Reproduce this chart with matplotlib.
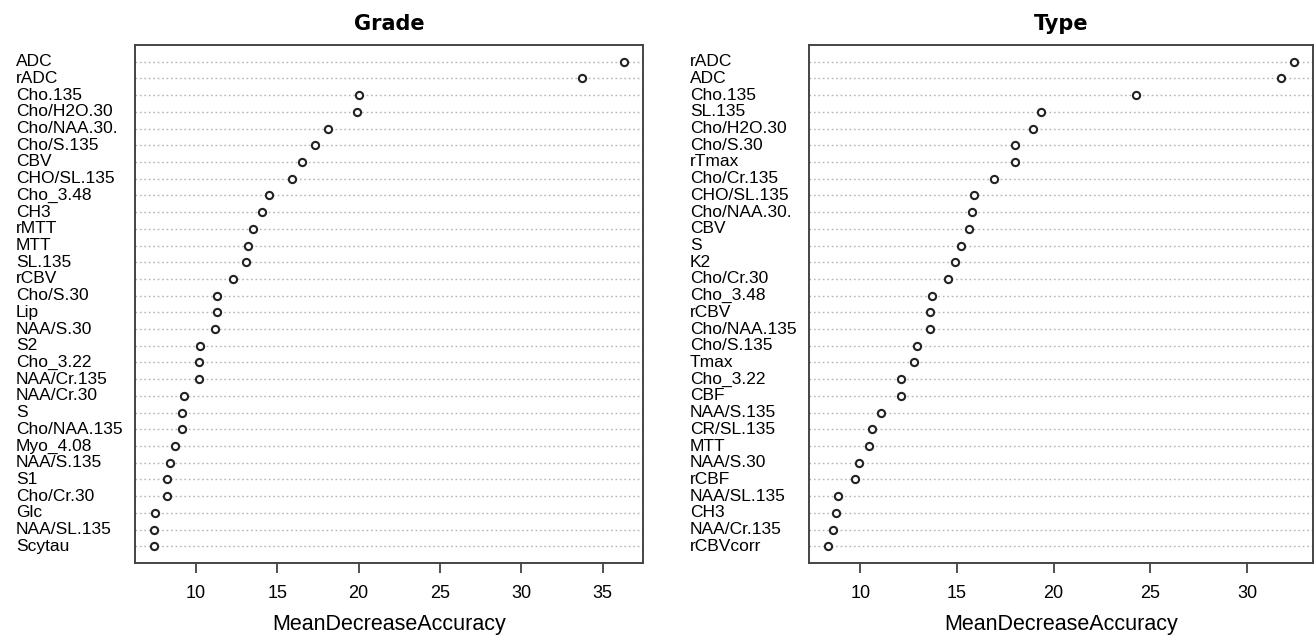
import matplotlib
matplotlib.use("Agg")
import matplotlib.pyplot as plt
from matplotlib.transforms import blended_transform_factory

grade_labels = ["ADC", "rADC", "Cho.135", "Cho/H2O.30", "Cho/NAA.30.", "Cho/S.135", "CBV",
                "CHO/SL.135", "Cho_3.48", "CH3", "rMTT", "MTT", "SL.135", "rCBV", "Cho/S.30",
                "Lip", "NAA/S.30", "S2", "Cho_3.22", "NAA/Cr.135", "NAA/Cr.30", "S",
                "Cho/NAA.135", "Myo_4.08", "NAA/S.135", "S1", "Cho/Cr.30", "Glc",
                "NAA/SL.135", "Scytau"]
grade_values = [36.3, 33.7, 20.0, 19.9, 18.1, 17.3, 16.5, 15.9, 14.5, 14.05, 13.5, 13.2,
                13.05, 12.3, 11.27, 11.27, 11.2, 10.26, 10.18, 10.18, 9.24, 9.16, 9.16,
                8.73, 8.42, 8.23, 8.23, 7.51, 7.41, 7.41]

type_labels = ["rADC", "ADC", "Cho.135", "SL.135", "Cho/H2O.30", "Cho/S.30", "rTmax",
               "Cho/Cr.135", "CHO/SL.135", "Cho/NAA.30.", "CBV", "S", "K2", "Cho/Cr.30",
               "Cho_3.48", "rCBV", "Cho/NAA.135", "Cho/S.135", "Tmax", "Cho_3.22", "CBF",
               "NAA/S.135", "CR/SL.135", "MTT", "NAA/S.30", "rCBF", "NAA/SL.135", "CH3",
               "NAA/Cr.135", "rCBVcorr"]
type_values = [32.45, 31.78, 24.25, 19.33, 18.94, 18.0, 18.0, 16.94, 15.86, 15.79, 15.62,
               15.23, 14.92, 14.56, 13.69, 13.62, 13.62, 12.93, 12.78, 12.08, 12.08, 11.08,
               10.61, 10.46, 9.93, 9.70, 8.85, 8.76, 8.61, 8.31]

xticks = [10, 15, 20, 25, 30, 35]

W, H = 1315, 636
fig = plt.figure(figsize=(W / 100, H / 100), dpi=100)

def panel(rect, labels, values, title, label_x):
    ax = fig.add_axes(rect)
    n = len(values)
    ys = [n - i for i in range(n)]
    lo, hi = min(values), max(values)
    ext = (hi - lo) * 0.04
    ax.set_xlim(lo - ext, hi + ext)
    ax.set_ylim(0, n + 1)
    for y in ys:
        ax.axhline(y, color="#b4b4b4", linestyle=(0, (1.2, 2.0)), linewidth=1.0, zorder=1)
    ax.plot(values, ys, linestyle="none", marker="o", markersize=5.2,
            markerfacecolor="white", markeredgecolor="#222222", markeredgewidth=1.5, zorder=3)
    ax.set_yticks([])
    ax.set_xticks([t for t in xticks if lo - ext <= t <= hi + ext])
    ax.tick_params(axis="x", direction="out", length=7.5, width=1.2, pad=8,
                   labelsize=13, color="#333333")
    for lab in ax.get_xticklabels():
        lab.set_family("Liberation Sans")
    for s in ax.spines.values():
        s.set_linewidth(1.4)
        s.set_color("#444444")
    ax.set_title(title, fontsize=15, fontweight="bold", family="DejaVu Sans", pad=11)
    ax.set_xlabel("MeanDecreaseAccuracy", fontsize=15.5, family="Liberation Sans", labelpad=9)
    tr = blended_transform_factory(fig.transFigure, ax.transData)
    for lab, y in zip(labels, ys):
        ax.text(label_x, y, lab, transform=tr, ha="left", va="center",
                fontsize=12.5, family="Liberation Sans", clip_on=False)
    return ax

panel([135 / W, 1 - 563 / H, (642.7 - 135) / W, (563 - 45) / H],
      grade_labels, grade_values, "Grade", 16 / W)
panel([809 / W, 1 - 563 / H, (1313 - 809) / W, (563 - 45) / H],
      type_labels, type_values, "Type", 690 / W)

fig.savefig("out.png", dpi=100)
